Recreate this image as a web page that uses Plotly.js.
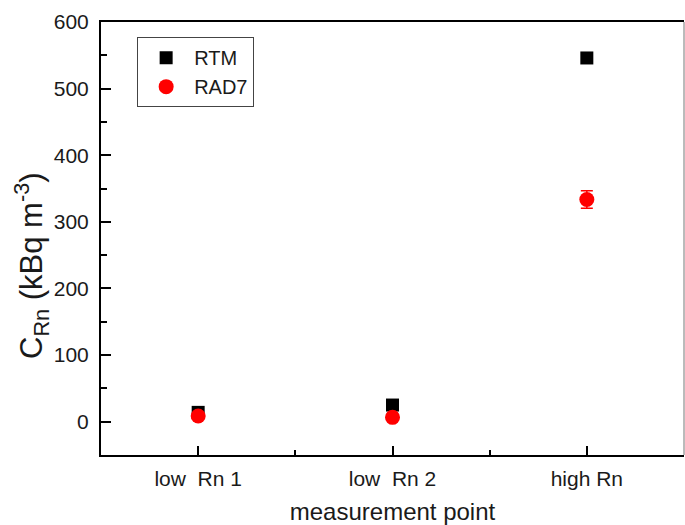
<!DOCTYPE html>
<html>
<head>
<meta charset="utf-8">
<script src="https://cdn.plot.ly/plotly-3.0.1.min.js"></script>
<style>html,body{margin:0;padding:0;background:#fff;}#chart{width:685px;height:525px;}</style>
</head>
<body>
<div id="chart"></div>
<script>
const categories = ["low\u00a0 Rn 1", "low\u00a0 Rn 2", "high Rn"];
const positions = [1, 2, 3];
const rtmValues = [14, 25, 546];
const rad7Values = [8.5, 6.5, 333.5];
const rad7Errors = [0, 0, 13];
const yTitle = "C<sub>Rn</sub> (kBq m<sup>-3</sup>)";
const xTitle = "measurement point";

const font = "Liberation Sans, Arial, sans-serif";
const txt = "#1a1a1a";

const traces = [
  {
    x: positions, y: rtmValues, name: "RTM", type: "scatter", mode: "markers",
    marker: {symbol: "square", size: 13, color: "#000"}
  },
  {
    x: positions, y: rad7Values, name: "RAD7", type: "scatter", mode: "markers",
    marker: {symbol: "circle", size: 15, color: "#ff0000"},
    error_y: {type: "data", array: rad7Errors, visible: true, color: "#ff0000", thickness: 1.5, width: 6}
  }
];

const layout = {
  width: 685, height: 525,
  margin: {l: 101, r: 1, t: 22, b: 70},
  paper_bgcolor: "#fff", plot_bgcolor: "#fff",
  font: {family: font, color: txt, size: 18},
  showlegend: true,
  legend: {
    x: 0.062, y: 0.965, xanchor: "left", yanchor: "top",
    bordercolor: "#444", borderwidth: 1, bgcolor: "#fff",
    font: {family: font, size: 20, color: txt},
    itemwidth: 46, tracegroupgap: 0
  },
  xaxis: {
    range: [0.5, 3.5], tickmode: "array", tickvals: positions, ticktext: categories,
    showgrid: false, zeroline: false,
    showline: true, linecolor: "#000", linewidth: 2, mirror: true,
    ticks: "inside", ticklen: 9, tickwidth: 2, tickcolor: "#000",
    minor: {tickmode: "array", tickvals: [1.5, 2.5], ticks: "inside", ticklen: 5, tickwidth: 2, tickcolor: "#000", showgrid: false},
    tickfont: {size: 21, family: font, color: txt},
    ticklabelstandoff: 4,
    title: {text: xTitle, font: {size: 24, family: font, color: txt}, standoff: 14}
  },
  yaxis: {
    range: [-50, 600], tickmode: "linear", tick0: 0, dtick: 100,
    showgrid: false, zeroline: false,
    showline: true, linecolor: "#000", linewidth: 2,
    ticks: "inside", ticklen: 10, tickwidth: 2, tickcolor: "#000",
    minor: {dtick: 50, ticks: "inside", ticklen: 6, tickwidth: 2, tickcolor: "#000", showgrid: false},
    tickfont: {size: 21, family: font, color: txt},
    ticklabelstandoff: 6
  },
  annotations: [
    {text: yTitle, xref: "paper", yref: "paper", x: -0.118, y: 0.437,
     xanchor: "center", yanchor: "middle", textangle: -90, showarrow: false,
     font: {size: 31, family: font, color: txt}}
  ],
  shapes: [
    {type: "line", xref: "paper", yref: "paper", x0: 1, x1: 1, y0: 0, y1: 1, line: {color: "#777", width: 1}}
  ]
};

Plotly.newPlot("chart", traces, layout, {displayModeBar: false, staticPlot: true});
</script>
</body>
</html>
